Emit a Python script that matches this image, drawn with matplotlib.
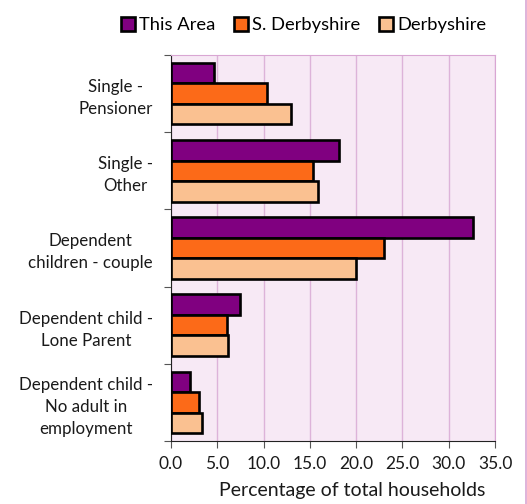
import matplotlib.pyplot as plt
import matplotlib.patches as mpatches
import numpy as np

plt.rcParams["font.family"] = ["Lato", "DejaVu Sans"]

categories = ["Single -\nPensioner", "Single -\nOther", "Dependent\nchildren - couple",
              "Dependent child -\nLone Parent", "Dependent child -\nNo adult in\nemployment"]
series_names = ["This Area", "S. Derbyshire", "Derbyshire"]
this_area = [4.6, 18.1, 32.6, 7.4, 2.1]
s_derbyshire = [10.4, 15.3, 23.0, 6.1, 3.0]
derbyshire = [13.0, 15.9, 20.0, 6.2, 3.4]
colors = ["#800080", "#FC6A18", "#FAC191"]
xticks = [0, 5, 10, 15, 20, 25, 30, 35]

fig = plt.figure(figsize=(5.27, 5.04), dpi=100)
ax = fig.add_axes([0.3245, 0.125, 0.6148, 0.7659])
ax.set_facecolor("#F7E9F5")

y = np.arange(len(categories))
h = 0.266
for i, (vals, name, c) in enumerate(zip([this_area, s_derbyshire, derbyshire], series_names, colors)):
    ax.barh(y + (i - 1) * h, vals, height=h, color=c, edgecolor="black",
            linewidth=1.9, label=name, zorder=3)

ax.set_xlim(0, 35)
ax.set_ylim(len(categories) - 0.5, -0.5)
ax.set_xticks(xticks)
ax.set_xticklabels([f"{v:.1f}" for v in xticks], fontsize=12.5, color="#1a1a1a")
ax.xaxis.grid(True, color="#DDB3D9", linewidth=1, zorder=0)

# category boundaries as major ticks, labels on minor ticks
ax.set_yticks(np.arange(-0.5, len(categories), 1.0))
ax.set_yticklabels([])
ax.set_yticks(y, minor=True)
ax.set_yticklabels(categories, minor=True, fontsize=12.2, color="#1a1a1a",
                   multialignment="center", linespacing=1.45)
ax.tick_params(axis="y", which="minor", length=0, pad=13)
ax.tick_params(axis="y", which="major", length=5, color="#555555")
ax.tick_params(axis="x", length=5, color="#555555", pad=6)

for s in ["top", "right"]:
    ax.spines[s].set_color("#D9A6D3")
for s in ["left", "bottom"]:
    ax.spines[s].set_color("#222222")

ax.set_xlabel("Percentage of total households", fontsize=14, color="#1a1a1a")
ax.xaxis.set_label_coords(0.559, -0.105)
ax.xaxis.label.set_va("top")

handles = [mpatches.Patch(facecolor=c, edgecolor="black", linewidth=1.9) for c in colors]
fig.legend(handles, series_names, loc="center", bbox_to_anchor=(0.576, 0.95), ncol=3,
           frameon=False, fontsize=13.2, handlelength=0.75, handleheight=0.75,
           handletextpad=0.25, columnspacing=1.0)

fig.add_artist(plt.Line2D([0.998, 0.998], [0, 1], color="#D9A6D3", linewidth=1.2))

fig.savefig("out.png", dpi=100)
